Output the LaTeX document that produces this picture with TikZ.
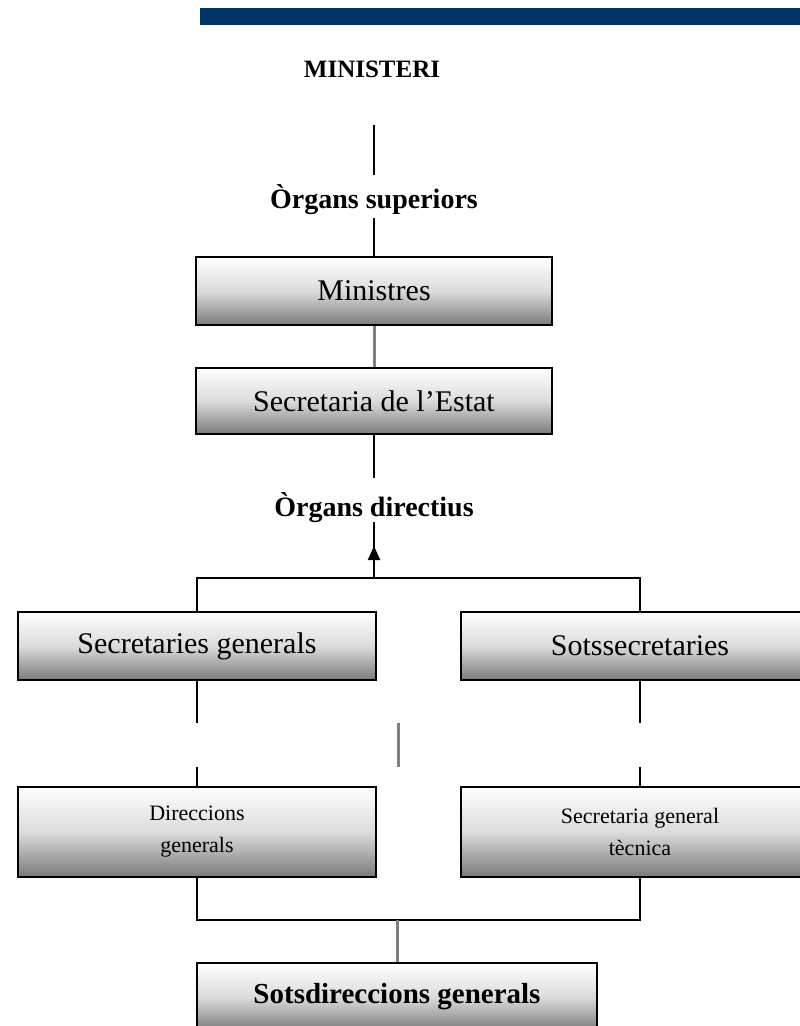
\documentclass[tikz,border=0pt]{standalone}
\usepackage{fontspec}
\setmainfont{Liberation Serif}
\usetikzlibrary{arrows.meta}
\definecolor{navy}{RGB}{0,51,102}
\definecolor{conngray}{RGB}{128,128,128}
\begin{document}
\begin{tikzpicture}[x=1pt,y=-1pt,
  box/.style={draw=black, line width=2pt, top color=white, bottom color=black!52, middle color=black!14,
    minimum width=356pt, minimum height=68pt, inner sep=0pt, align=center,
    font=\fontsize{30}{36}\selectfont},
  lbl/.style={inner sep=0pt, anchor=base, font=\bfseries\fontsize{28}{34}\selectfont},
  blk/.style={line width=2pt, draw=black},
  gry/.style={line width=3pt, draw=conngray}]
\useasboundingbox (0,0) rectangle (800,1026);
\clip (0,0) rectangle (800,1026);
\fill[navy] (200,8) rectangle (800,25);
\node[lbl, font=\bfseries\fontsize{25}{30}\selectfont] (title) at (372,77) {MINISTERI};
\coordinate (top) at (374,125);
\node[lbl, text height=33pt, text depth=10pt] (sup) at (374,208) {Òrgans superiors};
\node[box] (min) at (374,291) {Ministres};
\node[box, minimum height=66pt] (sec) at (374,401) {Secretaria de l’Estat};
\node[lbl, text height=38pt, text depth=6pt] (dir) at (374,516) {Òrgans directius};
\coordinate (ah) at (374,546);
\coordinate (j1) at (374,578);
\node[box, minimum width=358pt] (sg) at (197,646) {Secretaries generals};
\node[box, minimum width=358pt] (ss) at (640,646) {Sotssecretaries};
\coordinate (sgA) at (197,723);
\coordinate (sgB) at (197,767);
\coordinate (ssA) at (640,723);
\coordinate (ssB) at (640,767);
\coordinate (g1) at (398,723);
\coordinate (g2) at (398,767);
\node[box, minimum width=358pt, minimum height=90pt, font=\fontsize{22}{32}\selectfont] (dg) at (197,832) {Direccions\\generals};
\node[box, minimum width=358pt, minimum height=90pt, font=\fontsize{22}{32}\selectfont] (sgt) at (640,832) {Secretaria general\\tècnica};
\coordinate (j2) at (397,920);
\node[box, minimum width=400pt, font=\bfseries\fontsize{29}{35}\selectfont] (sd) at (397,997) {Sotsdireccions generals};
% connectors
\draw[blk] (top) -- (sup.north);
\draw[blk] (sup.south) -- (min.north);
\draw[gry] (min.south) -- (sec.north);
\draw[blk] (sec.south) -- (dir.north);
\draw[blk] (j1) -- (dir.south);
\draw[blk, -{Triangle[width=12pt,length=14pt]}] (j1) -- (ah);
\draw[blk] (sg.north) |- (j1) -| (ss.north);
\draw[blk] (sg.south) -- (sgA);
\draw[blk] (sgB) -- (dg.north);
\draw[blk] (ss.south) -- (ssA);
\draw[blk] (ssB) -- (sgt.north);
\draw[gry] (g1) -- (g2);
\draw[blk] (dg.south) |- (j2) -| (sgt.south);
\draw[gry] (j2) -- (sd.north);
\end{tikzpicture}
\end{document}
